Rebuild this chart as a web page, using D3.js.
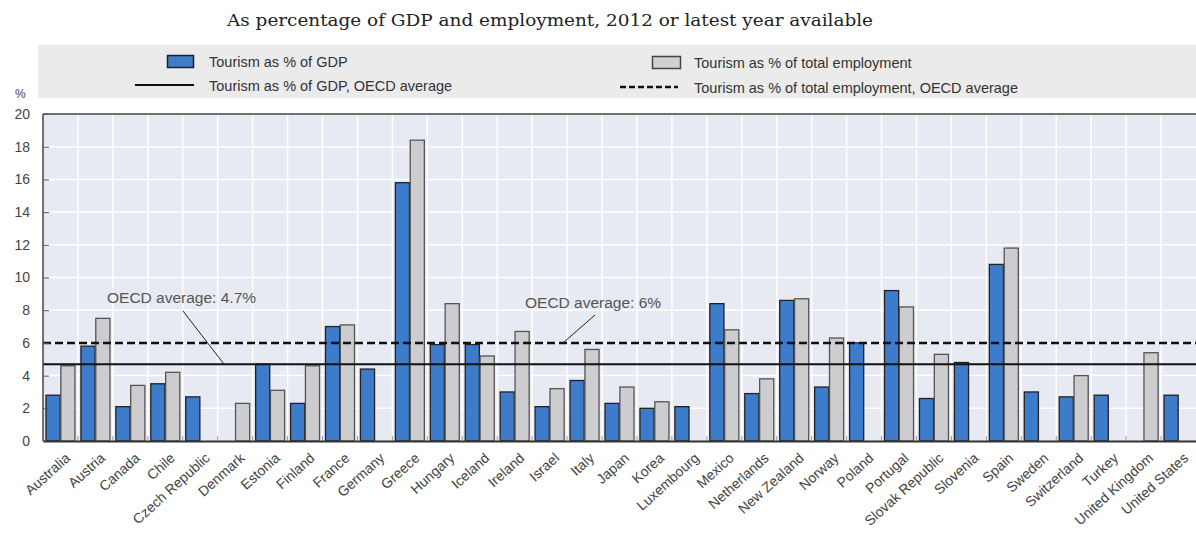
<!DOCTYPE html>
<html>
<head>
<meta charset="utf-8">
<script src="https://cdn.jsdelivr.net/npm/d3@7"></script>
<style>
  html, body { margin: 0; padding: 0; background: #ffffff; }
  svg { display: block; }
</style>
</head>
<body>
<svg id="chart" width="1196" height="533"></svg>
<script>
const countries = ["Australia","Austria","Canada","Chile","Czech Republic","Denmark","Estonia","Finland","France","Germany","Greece","Hungary","Iceland","Ireland","Israel","Italy","Japan","Korea","Luxembourg","Mexico","Netherlands","New Zealand","Norway","Poland","Portugal","Slovak Republic","Slovenia","Spain","Sweden","Switzerland","Turkey","United Kingdom","United States"];
const gdpShare = [2.8,5.8,2.1,3.5,2.7,null,4.7,2.3,7.0,4.4,15.8,5.9,5.9,3.0,2.1,3.7,2.3,2.0,2.1,8.4,2.9,8.6,3.3,6.0,9.2,2.6,4.8,10.8,3.0,2.7,2.8,null,2.8];
const employmentShare = [4.6,7.5,3.4,4.2,null,2.3,3.1,4.6,7.1,null,18.4,8.4,5.2,6.7,3.2,5.6,3.3,2.4,null,6.8,3.8,8.7,6.3,null,8.2,5.3,null,11.8,null,4.0,null,5.4,null];
const oecdAvgGdp = 4.7;
const oecdAvgEmployment = 6;
const yTicks = [0,2,4,6,8,10,12,14,16,18,20];
const title = "As percentage of GDP and employment, 2012 or latest year available";
const seriesNames = ["Tourism as % of GDP","Tourism as % of total employment","Tourism as % of GDP, OECD average","Tourism as % of total employment, OECD average"];
const annotationGdp = "OECD average: 4.7%";
const annotationEmp = "OECD average: 6%";

(function () {
const svg = d3.select("#chart");
const pL = 43, pR = 1196, pT = 114, pB = 441;
const sans = "'Liberation Sans Narrow','Arial Narrow','Liberation Sans',sans-serif";

const x = d3.scaleBand().domain(countries).range([pL, pR]).paddingInner(0).paddingOuter(0);
const y = d3.scaleLinear().domain([0, 20]).range([pB, pT]);

// title
svg.append("text").attr("x", 550).attr("y", 26).attr("text-anchor", "middle")
  .attr("font-family", "'DejaVu Serif','Liberation Serif',serif").attr("font-size", 16)
  .attr("textLength", 646).attr("lengthAdjust", "spacingAndGlyphs")
  .attr("fill", "#222").text(title);

// legend box
svg.append("rect").attr("x", 38).attr("y", 45).attr("width", 1158).attr("height", 53).attr("fill", "#ebebeb");
const lg = svg.append("g").attr("font-family", sans).attr("font-size", 14.5).attr("fill", "#333");
lg.append("rect").attr("x", 167.5).attr("y", 55.5).attr("width", 26).attr("height", 12).attr("fill", "#3f7ccc").attr("stroke", "#222").attr("stroke-width", 1.5);
lg.append("text").attr("x", 209).attr("y", 67).text(seriesNames[0]);
lg.append("line").attr("x1", 135).attr("x2", 194).attr("y1", 85).attr("y2", 85).attr("stroke", "#111").attr("stroke-width", 2);
lg.append("text").attr("x", 209).attr("y", 91).text(seriesNames[2]);
lg.append("rect").attr("x", 652.5).attr("y", 56.5).attr("width", 28).attr("height", 12).attr("fill", "#d0d0d0").attr("stroke", "#444").attr("stroke-width", 1.5);
lg.append("text").attr("x", 694).attr("y", 68).text(seriesNames[1]);
lg.append("line").attr("x1", 620).attr("x2", 678).attr("y1", 87).attr("y2", 87).attr("stroke", "#111").attr("stroke-width", 2.5).attr("stroke-dasharray", "6,3");
lg.append("text").attr("x", 694).attr("y", 93).text(seriesNames[3]);

// plot background
svg.append("rect").attr("x", pL).attr("y", pT).attr("width", pR - pL).attr("height", pB - pT).attr("fill", "#e7eaf3");

// grid
const grid = svg.append("g");
grid.selectAll("line.h").data(yTicks.filter(d => d > 0 && d < 20)).join("line")
  .attr("x1", pL).attr("x2", pR).attr("y1", d => y(d)).attr("y2", d => y(d))
  .attr("stroke", "#ffffff").attr("stroke-width", 1.5);
grid.selectAll("line.v").data(countries.slice(1)).join("line")
  .attr("x1", d => x(d)).attr("x2", d => x(d)).attr("y1", pT).attr("y2", pB)
  .attr("stroke", "#ffffff").attr("stroke-width", 1.5);

// bars
const inner = d3.scaleBand().domain(["gdp", "emp"]).range([0, x.bandwidth()]).paddingOuter(0.2).paddingInner(0.05);
const bars = svg.append("g");
bars.selectAll("rect.gdp").data(countries.map((c, i) => ({c, v: gdpShare[i]})).filter(d => d.v != null)).join("rect")
  .attr("class", "gdp")
  .attr("x", d => x(d.c) + inner("gdp")).attr("width", inner.bandwidth())
  .attr("y", d => y(d.v)).attr("height", d => y(0) - y(d.v))
  .attr("fill", "#3d7bcb").attr("stroke", "#222").attr("stroke-width", 1.3);
bars.selectAll("rect.emp").data(countries.map((c, i) => ({c, v: employmentShare[i]})).filter(d => d.v != null)).join("rect")
  .attr("class", "emp")
  .attr("x", d => x(d.c) + inner("emp")).attr("width", inner.bandwidth())
  .attr("y", d => y(d.v)).attr("height", d => y(0) - y(d.v))
  .attr("fill", "#cdcdcf").attr("stroke", "#555").attr("stroke-width", 1.3);

// small bottom ticks at band boundaries
svg.append("g").selectAll("line").data(countries.slice(1)).join("line")
  .attr("x1", d => x(d)).attr("x2", d => x(d)).attr("y1", pB - 5).attr("y2", pB)
  .attr("stroke", "#999").attr("stroke-width", 1);

// average lines
svg.append("line").attr("x1", pL).attr("x2", pR).attr("y1", y(oecdAvgGdp)).attr("y2", y(oecdAvgGdp))
  .attr("stroke", "#111").attr("stroke-width", 2);
svg.append("line").attr("x1", pL).attr("x2", pR).attr("y1", y(oecdAvgEmployment)).attr("y2", y(oecdAvgEmployment))
  .attr("stroke", "#111").attr("stroke-width", 2.5).attr("stroke-dasharray", "8,4");

// annotations
const ann = svg.append("g").attr("font-family", sans).attr("font-size", 15.5).attr("fill", "#555");
ann.append("text").attr("x", 107).attr("y", 303).text(annotationGdp);
ann.append("line").attr("x1", 183).attr("y1", 311).attr("x2", 224).attr("y2", y(oecdAvgGdp)).attr("stroke", "#222").attr("stroke-width", 1);
ann.append("text").attr("x", 525).attr("y", 308).text(annotationEmp);
ann.append("line").attr("x1", 595).attr("y1", 315).attr("x2", 563).attr("y2", y(oecdAvgEmployment)).attr("stroke", "#222").attr("stroke-width", 1);

// frame
svg.append("line").attr("x1", pL).attr("x2", pR).attr("y1", pT).attr("y2", pT).attr("stroke", "#444").attr("stroke-width", 1.5);
svg.append("line").attr("x1", pL).attr("x2", pL).attr("y1", pT).attr("y2", pB).attr("stroke", "#444").attr("stroke-width", 1.5);

// y axis
const yAxis = svg.append("g").attr("transform", `translate(${pL},0)`)
  .call(d3.axisLeft(y).tickValues(yTicks).tickSize(-6).tickPadding(13).tickFormat(d3.format("d")));
yAxis.select(".domain").remove();
yAxis.selectAll(".tick line").attr("stroke", "#555").attr("stroke-width", 1);
yAxis.selectAll(".tick text").attr("font-family", sans).attr("font-size", 14).attr("fill", "#444");
svg.append("text").attr("x", 15).attr("y", 98).attr("font-family", sans).attr("font-size", 12).attr("fill", "#444").text("%");

// x axis
const xAxis = svg.append("g").attr("transform", `translate(0,${pB})`)
  .call(d3.axisBottom(x).tickSize(0).tickPadding(0));
xAxis.select(".domain").attr("stroke", "#333").attr("stroke-width", 2);
xAxis.selectAll(".tick text")
  .attr("font-family", sans).attr("font-size", 14).attr("fill", "#444")
  .attr("text-anchor", "end")
  .attr("transform", "translate(4,11) rotate(-42)")
  .attr("dy", "0.7em");
})();
</script>
</body>
</html>
